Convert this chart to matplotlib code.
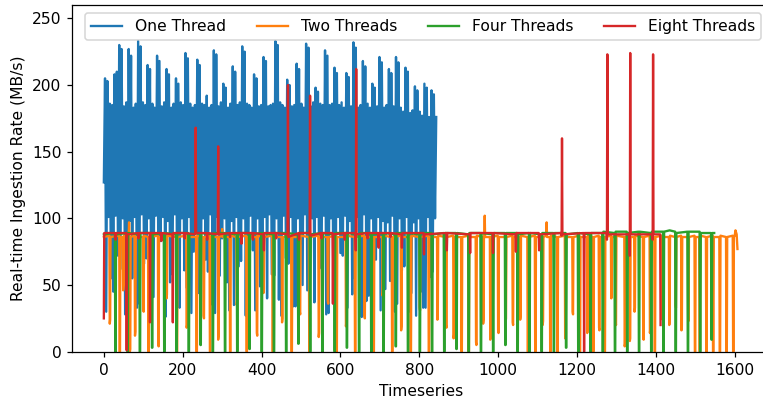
import numpy as np
import matplotlib
matplotlib.use("Agg")
import matplotlib.pyplot as plt

plt.rcParams["path.simplify"] = False

# One Thread: sampled every 3 timeseries steps (alternating low / high readings)
one_y = [
    127, 205, 30, 203, 101, 186, 55, 185, 45, 208, 102, 210, 72, 230, 62, 227, 100, 184, 28, 187,
    40, 227, 98, 222, 55, 183, 101, 186, 33, 233, 36, 229, 103, 187, 66, 185, 70, 215, 100, 212,
    48, 186, 41, 183, 102, 222, 80, 218, 83, 184, 101, 187, 26, 212, 98, 208, 52, 183, 58, 186,
    103, 205, 37, 201, 33, 187, 100, 185, 61, 224, 48, 220, 101, 186, 29, 183, 75, 185, 102, 219,
    44, 215, 38, 186, 100, 185, 69, 192, 60, 183, 103, 185, 35, 226, 29, 223, 101, 184, 57, 187,
    85, 201, 100, 198, 52, 183, 31, 186, 98, 214, 35, 210, 101, 185, 64, 187, 68, 229, 100, 225,
    27, 186, 44, 185, 102, 183, 76, 208, 31, 205, 100, 184, 49, 185, 79, 221, 101, 218, 40, 184,
    103, 185, 58, 186, 57, 233, 100, 230, 39, 187, 27, 185, 102, 183, 70, 204, 66, 200, 101, 184,
    34, 185, 34, 216, 100, 212, 81, 186, 50, 183, 103, 231, 46, 228, 82, 184, 100, 187, 37, 198,
    101, 195, 62, 186, 63, 185, 102, 226, 28, 222, 29, 185, 100, 186, 54, 213, 46, 209, 101, 185,
    74, 187, 72, 183, 102, 209, 33, 206, 98, 184, 43, 232, 55, 228, 101, 183, 67, 185, 26, 218,
    103, 214, 38, 186, 42, 183, 100, 201, 59, 198, 69, 184, 101, 221, 31, 217, 98, 183, 47, 185,
    97, 212, 53, 209, 102, 184, 30, 221, 36, 217, 100, 183, 61, 180, 64, 213, 101, 210, 30, 179,
    44, 181, 97, 199, 27, 196, 100, 180, 45, 177, 33, 201, 33, 198, 101, 176, 56, 196, 60, 193,
    100, 176,
]
one_x = np.arange(len(one_y)) * 3

# Two Threads: (timeseries, rate) vertices
two_pts = [
    (0, 86), (14, 87), (15, 21), (16, 24), (17, 86), (39, 87), (40, 0), (41, 0), (42, 86),
    (48, 86), (49, 46), (50, 50), (51, 87), (63, 87), (64, 97), (65, 86), (66, 0), (67, 2), (68, 86),
    (78, 87), (79, 12), (80, 15), (81, 86), (99, 86), (100, 32), (101, 30), (102, 87),
    (112, 86), (113, 0), (114, 0), (115, 86), (137, 87), (138, 6), (139, 4), (140, 86),
    (158, 86), (159, 40), (160, 43), (161, 87), (184, 86), (185, 0), (186, 0), (187, 86),
    (209, 87), (210, 18), (211, 20), (212, 86), (234, 86), (235, 0), (236, 0), (237, 87),
    (252, 86), (253, 27), (254, 25), (255, 86), (268, 87), (269, 0), (270, 0), (271, 86),
    (289, 86), (290, 9), (291, 12), (292, 86), (299, 87), (300, 92), (301, 86),
    (319, 86), (320, 0), (321, 0), (322, 87), (336, 86), (337, 35), (338, 38), (339, 86),
    (361, 87), (362, 0), (363, 0), (364, 86), (387, 86), (388, 14), (389, 12), (390, 87),
    (404, 86), (405, 44), (406, 47), (407, 86), (427, 87), (428, 0), (429, 0), (430, 86),
    (451, 86), (452, 22), (453, 25), (454, 86), (475, 87), (476, 0), (477, 0), (478, 86),
    (496, 86), (497, 30), (498, 28), (499, 87), (520, 86), (521, 0), (522, 0), (523, 86),
    (544, 87), (545, 11), (546, 14), (547, 86), (567, 86), (568, 38), (569, 36), (570, 86),
    (589, 87), (590, 0), (591, 0), (592, 86), (613, 86), (614, 19), (615, 22), (616, 87),
    (636, 86), (637, 0), (638, 0), (639, 86), (660, 87), (661, 27), (662, 25), (663, 86),
    (683, 86), (684, 0), (685, 0), (686, 86), (706, 86), (707, 42), (708, 45), (709, 87),
    (730, 86), (731, 0), (732, 0), (733, 86), (753, 87), (754, 16), (755, 19), (756, 86),
    (777, 86), (778, 0), (779, 0), (780, 87), (800, 86), (801, 33), (802, 31), (803, 86),
    (823, 87), (824, 0), (825, 0), (826, 86), (845, 86), (846, 24), (847, 27), (848, 87),
    (867, 86), (868, 20), (869, 18), (870, 86), (886, 87), (887, 10), (888, 13), (889, 86),
    (906, 86), (907, 0), (908, 0), (909, 86), (924, 87), (925, 0), (926, 0), (927, 86),
    (943, 86), (944, 7), (945, 5), (946, 87), (961, 86), (962, 21), (963, 24), (964, 86),
    (965, 87), (966, 102), (967, 86), (979, 86), (980, 9), (981, 11), (982, 86),
    (999, 87), (1000, 16), (1001, 14), (1002, 86), (1018, 86), (1019, 22), (1020, 25), (1021, 86),
    (1036, 87), (1037, 22), (1038, 20), (1039, 86), (1055, 86), (1056, 24), (1057, 27), (1058, 87),
    (1074, 86), (1075, 0), (1076, 0), (1077, 86), (1093, 87), (1094, 0), (1095, 0), (1096, 86),
    (1112, 86), (1113, 20), (1114, 23), (1115, 86), (1122, 87), (1123, 97), (1124, 86),
    (1131, 86), (1132, 0), (1133, 0), (1134, 87), (1149, 86), (1150, 0), (1151, 0), (1152, 86),
    (1169, 87), (1170, 10), (1171, 13), (1172, 86), (1188, 86), (1189, 30), (1190, 28), (1191, 86),
    (1206, 87), (1207, 0), (1208, 0), (1209, 86), (1225, 86), (1226, 14), (1227, 17), (1228, 87),
    (1240, 86), (1241, 0), (1242, 0), (1243, 86), (1255, 87), (1256, 18), (1257, 16), (1258, 86),
    (1269, 86), (1270, 0), (1271, 0), (1272, 86), (1286, 87), (1287, 40), (1288, 43), (1289, 86),
    (1297, 86), (1298, 22), (1299, 20), (1300, 87), (1320, 86), (1321, 4), (1322, 6), (1323, 86),
    (1333, 87), (1334, 8), (1335, 10), (1336, 86), (1345, 86), (1346, 30), (1347, 33), (1348, 87),
    (1367, 86), (1368, 11), (1369, 9), (1370, 86), (1384, 87), (1385, 14), (1386, 17), (1387, 86),
    (1396, 86), (1397, 0), (1398, 0), (1399, 86), (1415, 87), (1416, 26), (1417, 24), (1418, 86),
    (1433, 86), (1434, 20), (1435, 23), (1436, 87), (1449, 86), (1450, 35), (1451, 33), (1452, 86),
    (1464, 87), (1465, 16), (1466, 19), (1467, 86), (1481, 86), (1482, 25), (1483, 23), (1484, 86),
    (1498, 87), (1499, 0), (1500, 0), (1501, 86), (1510, 86), (1511, 0), (1512, 0), (1513, 87),
    (1527, 86), (1528, 0), (1529, 0), (1530, 86), (1544, 87), (1545, 0), (1546, 0), (1547, 86),
    (1561, 86), (1562, 0), (1563, 0), (1564, 87), (1578, 86), (1579, 0), (1580, 0), (1581, 86),
    (1595, 87), (1596, 0), (1597, 0), (1598, 86), (1600, 87), (1602, 91), (1605, 88), (1607, 77),
]

# Four Threads
four_pts = [
    (0, 88), (28, 89), (29, 0), (30, 0), (31, 88), (59, 89), (60, 0), (61, 0), (62, 89),
    (90, 88), (91, 0), (92, 0), (93, 89), (121, 89), (122, 3), (123, 3), (124, 88),
    (152, 89), (153, 0), (154, 0), (155, 89), (183, 88), (184, 0), (185, 0), (186, 89),
    (214, 89), (215, 0), (216, 0), (217, 88), (244, 89), (245, 5), (246, 5), (247, 89),
    (275, 88), (276, 0), (277, 0), (278, 89), (306, 89), (307, 0), (308, 0), (309, 89),
    (337, 88), (338, 0), (339, 0), (340, 89), (368, 89), (369, 2), (370, 2), (371, 88),
    (399, 89), (400, 0), (401, 0), (402, 89), (430, 88), (431, 0), (432, 0), (433, 89),
    (461, 89), (462, 0), (463, 0), (464, 89), (492, 88), (493, 6), (494, 6), (495, 89),
    (522, 89), (523, 0), (524, 0), (525, 88), (553, 89), (554, 0), (555, 0), (556, 89),
    (584, 88), (585, 0), (586, 0), (587, 89), (615, 89), (616, 3), (617, 3), (618, 89),
    (646, 88), (647, 0), (648, 0), (649, 89), (677, 89), (678, 0), (679, 0), (680, 88),
    (708, 89), (709, 0), (710, 0), (711, 89), (739, 88), (740, 4), (741, 4), (742, 89),
    (770, 89), (771, 0), (772, 0), (773, 89), (800, 88), (801, 0), (802, 0), (803, 89),
    (831, 89), (832, 0), (833, 0), (834, 88), (862, 89), (863, 0), (864, 0), (865, 89),
    (893, 89), (894, 2), (895, 2), (896, 89), (924, 88), (925, 0), (926, 0), (927, 89),
    (955, 89), (956, 0), (957, 0), (958, 89), (986, 88), (987, 0), (988, 0), (989, 89),
    (1017, 89), (1018, 5), (1019, 5), (1020, 89), (1048, 89), (1049, 0), (1050, 0), (1051, 88),
    (1078, 89), (1079, 0), (1080, 0), (1081, 89), (1109, 88), (1110, 0), (1111, 0), (1112, 89),
    (1140, 89), (1141, 0), (1142, 0), (1143, 89), (1171, 89), (1172, 3), (1173, 3), (1174, 88),
    (1202, 89), (1203, 0), (1204, 0), (1205, 89), (1233, 88), (1234, 0), (1235, 0), (1236, 89),
    (1264, 89), (1265, 0), (1266, 0), (1267, 90), (1295, 89), (1296, 0), (1297, 0), (1298, 90),
    (1326, 90), (1327, 0), (1328, 0), (1329, 89), (1356, 90), (1357, 0), (1358, 0), (1359, 90),
    (1387, 89), (1388, 0), (1389, 0), (1390, 90), (1418, 90), (1419, 0), (1420, 0), (1421, 90),
    (1435, 91), (1449, 90), (1450, 0), (1451, 0), (1452, 89), (1480, 90), (1481, 0), (1482, 0),
    (1483, 90), (1511, 90), (1512, 0), (1513, 0), (1514, 89), (1540, 89), (1541, 9), (1542, 9),
    (1543, 89), (1548, 89),
]

# Eight Threads
eight_pts = [
    (0, 25), (1, 89), (29, 89), (30, 84), (31, 89), (57, 89), (58, 1), (59, 88), (87, 89), (88, 85),
    (89, 89), (116, 89), (117, 22), (118, 89), (145, 89), (146, 83), (147, 89), (174, 88), (175, 22),
    (176, 89), (204, 89), (205, 85), (206, 89), (232, 88), (233, 168), (234, 89), (261, 89), (262, 84),
    (263, 89), (289, 88), (290, 154), (291, 88), (319, 89), (320, 86), (321, 89), (348, 89), (349, 81),
    (350, 89), (377, 89), (378, 84), (379, 89), (405, 88), (406, 76), (407, 89), (436, 89), (437, 85),
    (438, 89), (466, 88), (467, 200), (468, 86), (494, 89), (495, 84), (496, 89), (522, 89), (523, 192),
    (524, 87), (551, 89), (552, 85), (553, 89), (580, 89), (581, 36), (582, 88), (610, 89), (611, 84),
    (612, 89), (638, 89), (639, 76), (640, 212), (641, 88), (668, 89), (669, 85), (670, 89), (696, 89),
    (697, 78), (698, 89), (726, 89), (727, 86), (728, 89), (755, 88), (756, 78), (757, 89), (811, 89),
    (812, 73), (813, 88), (869, 89), (870, 76), (871, 89), (928, 88), (929, 74), (930, 89), (986, 89),
    (987, 74), (988, 89), (1044, 88), (1045, 75), (1046, 89), (1103, 89), (1104, 76), (1105, 88),
    (1160, 89), (1161, 87), (1162, 160), (1163, 88), (1217, 89), (1218, 0), (1219, 89), (1275, 89),
    (1276, 84), (1277, 223), (1278, 88), (1333, 88), (1334, 72), (1335, 224), (1336, 88), (1391, 88),
    (1392, 84), (1393, 223), (1394, 88), (1411, 88), (1412, 20),
]

labels = ["One Thread", "Two Threads", "Four Threads", "Eight Threads"]

W, H, DPI = 763, 400, 112
fig = plt.figure(figsize=(W / DPI, H / DPI), dpi=DPI)
ax = fig.add_axes([72.3 / W, 48.3 / H, (769 - 72.3) / W, (351.7 - 5) / H])

ax.plot(one_x, one_y, label=labels[0])
for pts, lab in [(two_pts, labels[1]), (four_pts, labels[2]), (eight_pts, labels[3])]:
    xs, ys = zip(*pts)
    ax.plot(xs, ys, label=lab)

ax.set_xlim(-80, 1687)
ax.set_ylim(0, 260)
ax.set_xticks([0, 200, 400, 600, 800, 1000, 1200, 1400, 1600])
ax.set_yticks([0, 50, 100, 150, 200, 250])
ax.set_xlabel("Timeseries")
ax.set_ylabel("Real-time Ingestion Rate (MB/s)")
ax.legend(loc="upper right", ncol=4)

fig.savefig("out.png", dpi=DPI)
